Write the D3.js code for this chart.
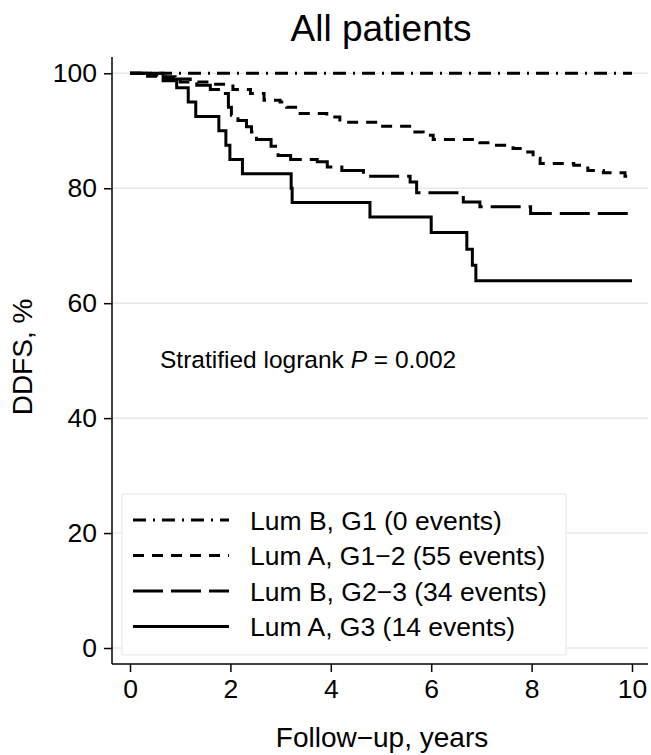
<!DOCTYPE html>
<html>
<head>
<meta charset="utf-8">
<script src="https://cdn.jsdelivr.net/npm/d3@7"></script>
<style>
  body { margin: 0; background: #fff; }
  text { font-family: "Liberation Sans", Arial, sans-serif; fill: #000; }
</style>
</head>
<body>
<svg id="svgChart" width="651" height="755"></svg>
<script>
// Kaplan-Meier step points: years and DDFS %
var lumBG1Years = [0, 10];
var lumBG1Surv  = [100, 100];

var lumAG12Years = [0, 0.3, 0.6, 0.9, 1.2, 1.6, 2.05, 2.4, 2.67, 2.99, 3.12, 3.39, 3.92, 4.18, 4.98,
                    5.64, 5.84, 6.04, 6.97, 7.3, 7.63, 7.83, 8.03, 8.17, 8.84, 9.12, 9.43, 9.86, 10];
var lumAG12Surv  = [100, 99.7, 99.4, 99.0, 98.5, 98.1, 97.2, 96.5, 95.3, 95.0, 94.1, 93.0, 92.4, 91.5, 90.8,
                    89.8, 89.2, 88.5, 87.9, 87.5, 86.9, 86.3, 85.2, 84.3, 84.0, 83.1, 82.7, 82.1, 82.1];

var lumBG23Years = [0, 0.35, 0.7, 1.0, 1.33, 1.6, 1.8, 1.86, 1.96, 2.02, 2.15, 2.32, 2.42, 2.52, 2.81, 2.95, 3.2,
                    3.73, 3.93, 4.22, 4.65, 5.58, 5.71, 6.64, 6.97, 7.98, 10];
var lumBG23Surv  = [100, 99.5, 99.0, 98.5, 97.9, 97.2, 96.8, 96.5, 94.1, 92.7, 91.8, 90.7, 89.8, 88.5, 87.3, 85.7, 85.0,
                    84.6, 83.7, 83.1, 82.1, 81.1, 79.2, 77.6, 76.8, 75.6, 75.6];

var lumAG3Years = [0, 0.66, 0.93, 1.16, 1.31, 1.77, 1.91, 1.99, 2.24, 3.21, 3.23, 4.78, 6.0, 6.71, 6.82, 6.89, 10];
var lumAG3Surv  = [100, 98.7, 97.5, 95, 92.5, 90, 87.5, 85, 82.5, 80, 77.5, 75, 72.3, 69.4, 66.6, 63.9, 63.9];

var seriesNames = ["Lum B, G1 (0 events)", "Lum A, G1\u22122 (55 events)",
                   "Lum B, G2\u22123 (34 events)", "Lum A, G3 (14 events)"];
var yTicks = [0, 20, 40, 60, 80, 100];
var xTicks = [0, 2, 4, 6, 8, 10];

var dashes = ["13,7,2,7", "11,8", "30,8", null];

var series = [
  { years: lumBG1Years,  surv: lumBG1Surv },
  { years: lumAG12Years, surv: lumAG12Surv },
  { years: lumBG23Years, surv: lumBG23Surv },
  { years: lumAG3Years,  surv: lumAG3Surv }
];

function drawChart() {
  var svg = d3.select("#svgChart");

  var x = d3.scaleLinear().domain([0, 10]).range([130, 632]);
  var y = d3.scaleLinear().domain([0, 100]).range([648, 73.3]);
  var axisX = 112, axisY = 664;

  // gridlines
  svg.append("g").selectAll("line")
    .data(yTicks)
    .enter().append("line")
      .attr("x1", axisX).attr("x2", 648)
      .attr("y1", function(d) { return y(d); })
      .attr("y2", function(d) { return y(d); })
      .attr("stroke", "#e8e8e8")
      .attr("stroke-width", 1.6);

  // y axis
  var gy = svg.append("g")
      .attr("transform", "translate(" + axisX + ",0)")
      .call(d3.axisLeft(y).tickValues(yTicks).tickSize(8).tickPadding(7));
  gy.select(".domain").remove();
  gy.append("line").attr("x1", 0).attr("x2", 0).attr("y1", 57).attr("y2", axisY)
      .attr("stroke", "#000").attr("stroke-width", 1.5);
  gy.selectAll(".tick line").attr("stroke-width", 1.5);
  gy.selectAll(".tick text").attr("font-size", "26.5px").attr("font-family", null);

  // x axis
  var gx = svg.append("g")
      .attr("transform", "translate(0," + axisY + ")")
      .call(d3.axisBottom(x).tickValues(xTicks).tickSize(8).tickPadding(7));
  gx.select(".domain").remove();
  gx.append("line").attr("x1", axisX).attr("x2", 648).attr("y1", 0).attr("y2", 0)
      .attr("stroke", "#000").attr("stroke-width", 1.5);
  gx.selectAll(".tick line").attr("stroke-width", 1.5);
  gx.selectAll(".tick text").attr("font-size", "26.5px").attr("font-family", null);

  // curves
  var line = d3.line()
      .x(function(d) { return x(d[0]); })
      .y(function(d) { return y(d[1]); })
      .curve(d3.curveStepAfter);

  series.forEach(function(s, i) {
    var pts = s.years.map(function(t, k) { return [t, s.surv[k]]; });
    svg.append("path")
        .datum(pts)
        .attr("fill", "none")
        .attr("stroke", "#000")
        .attr("stroke-width", 3)
        .attr("stroke-dasharray", dashes[i])
        .attr("d", line);
  });

  // titles
  svg.append("text").attr("x", 381).attr("y", 41)
      .attr("text-anchor", "middle").attr("font-size", "37px")
      .text("All patients");
  svg.append("text").attr("x", 382).attr("y", 747)
      .attr("text-anchor", "middle").attr("font-size", "28px")
      .text("Follow\u2212up, years");
  svg.append("text")
      .attr("transform", "translate(32,357) rotate(-90)")
      .attr("text-anchor", "middle").attr("font-size", "28px")
      .text("DDFS, %");

  // logrank note
  var note = svg.append("text").attr("x", 160).attr("y", 368).attr("font-size", "24.5px");
  note.append("tspan").text("Stratified logrank ");
  note.append("tspan").attr("font-style", "italic").text("P");
  note.append("tspan").text(" = 0.002");

  // legend
  var leg = svg.append("g");
  leg.append("rect").attr("x", 122).attr("y", 494).attr("width", 444).attr("height", 161)
      .attr("fill", "#fff").attr("stroke", "#eeeeee").attr("stroke-width", 1.5);
  seriesNames.forEach(function(name, i) {
    var cy = 520 + i * 35.5;
    leg.append("line").attr("x1", 133).attr("x2", 229).attr("y1", cy).attr("y2", cy)
        .attr("stroke", "#000").attr("stroke-width", 3)
        .attr("stroke-dasharray", dashes[i]);
    leg.append("text").attr("x", 250).attr("y", cy + 9.5)
        .attr("font-size", "26.5px").text(name);
  });
}

drawChart();
</script>
</body>
</html>
